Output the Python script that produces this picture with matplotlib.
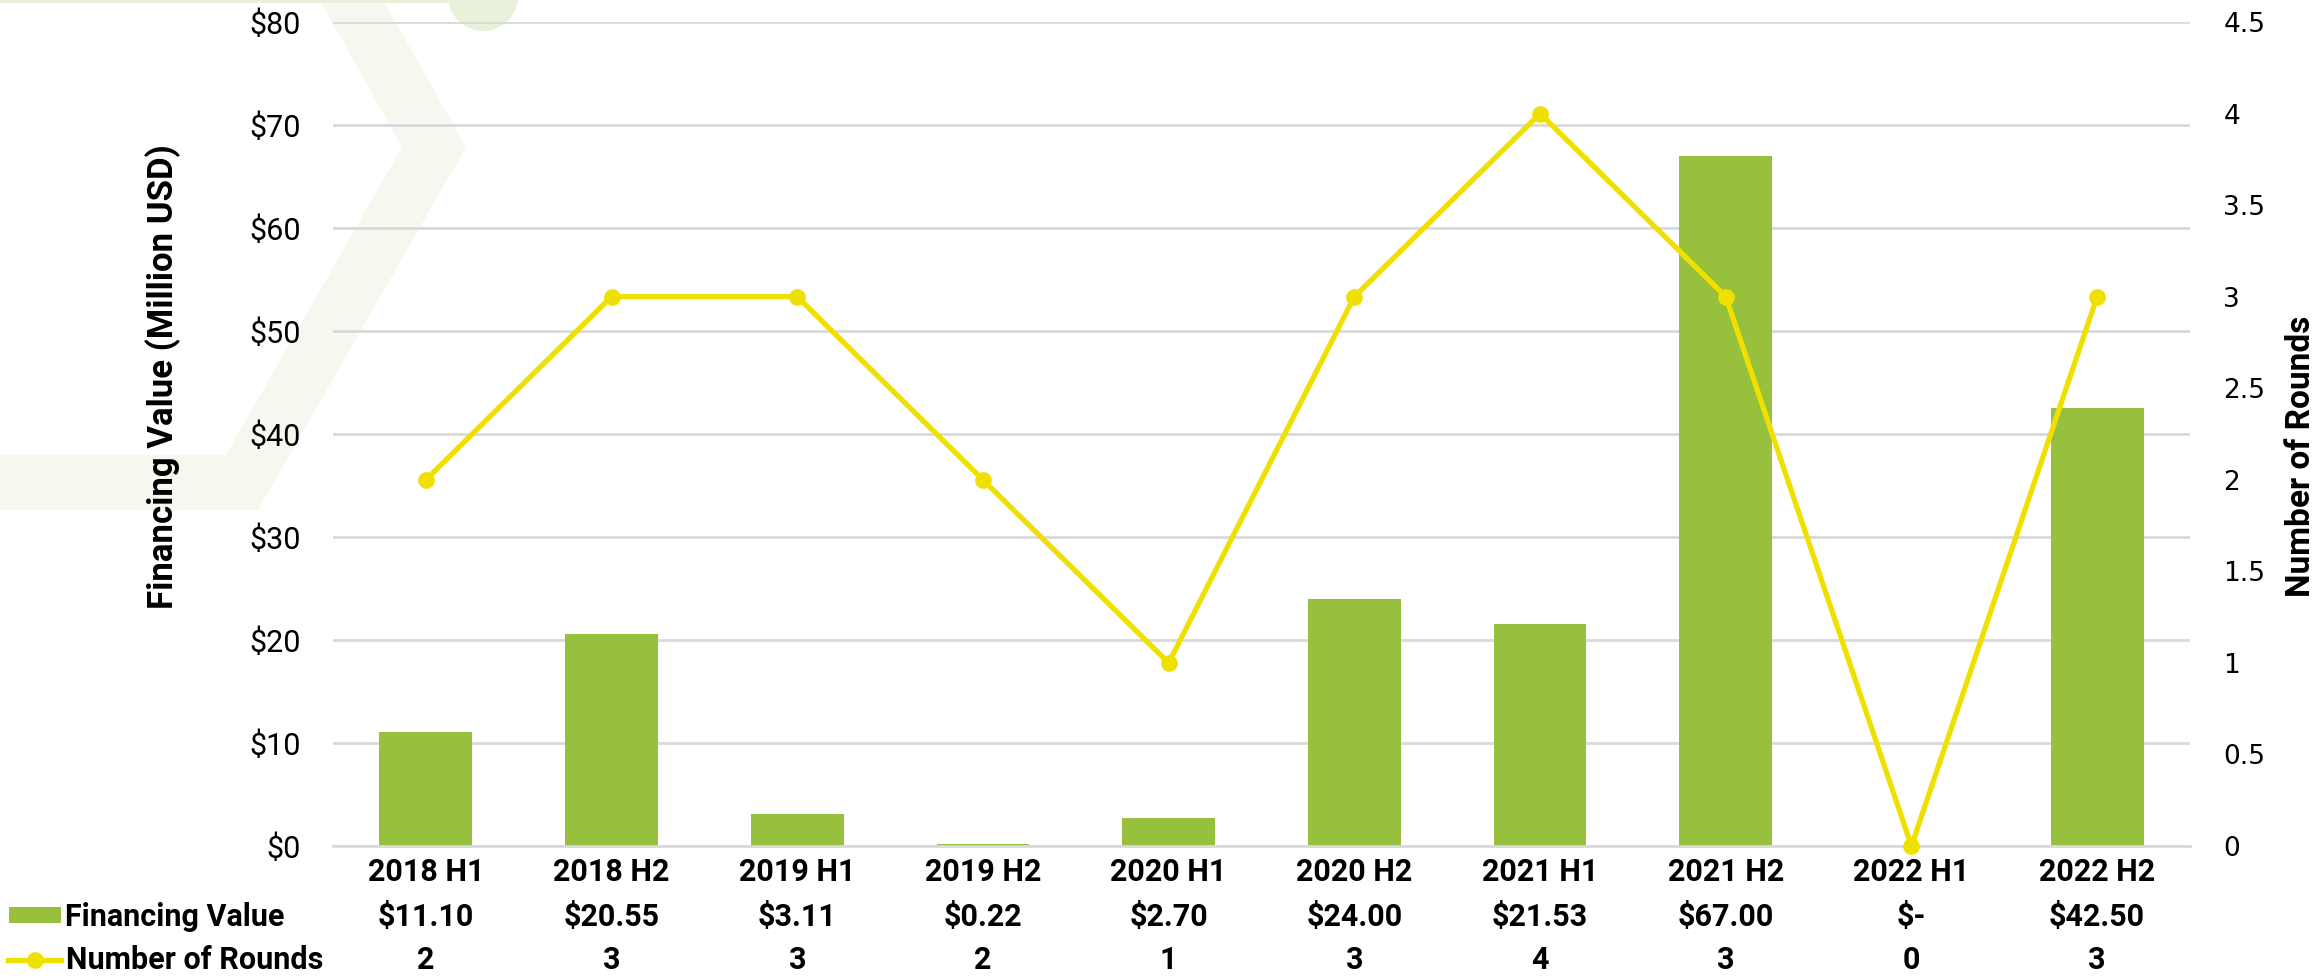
import numpy as np
import matplotlib.pyplot as plt
from matplotlib.patches import Polygon, Circle, Rectangle
from matplotlib.lines import Line2D
import matplotlib.transforms as mtransforms

# data
periods = ['2018 H1', '2018 H2', '2019 H1', '2019 H2', '2020 H1',
           '2020 H2', '2021 H1', '2021 H2', '2022 H1', '2022 H2']
financing = [11.10, 20.55, 3.11, 0.22, 2.70, 24.00, 21.53, 67.00, 0.0, 42.50]
rounds = [2, 3, 3, 2, 1, 3, 4, 3, 0, 3]

green = '#97C03D'
yellow = '#F0E000'
grid_col = '#D9D9D9'
narrow = ['Roboto', 'DejaVu Sans']

W, H = 2323, 980
fig = plt.figure(figsize=(W / 100, H / 100), dpi=100)


def fx(px):
    return px / W


def fy(py):
    return 1 - py / H


# background decoration (chevron, circle, top strip) in pixel coords
chev = [(320, 0), (383, 0), (466, 147), (258, 510), (0, 510), (0, 455),
        (226, 455), (402, 147)]
bg = fig.add_axes([0, 0, 1, 1], zorder=-1)
bg.set_xlim(0, W)
bg.set_ylim(H, 0)
bg.axis('off')
bg.add_patch(Polygon(chev, closed=True, facecolor='#F6F8EF', edgecolor='none'))
bg.add_patch(Rectangle((0, 0), 450, 3, facecolor='#E8F1D9', edgecolor='none'))
bg.add_patch(Circle((483, -4), 35, facecolor='#E8F1D9', edgecolor='none'))

ax = fig.add_axes([fx(333), fy(846), fx(2190) - fx(333), (846 - 22) / H])
ax.set_facecolor('none')
x = np.arange(len(periods))

ax.bar(x, financing, width=0.5, color=green, zorder=2)
ax.set_xlim(-0.5, len(periods) - 0.5)
ax.set_ylim(0, 80)
ax.set_yticks(np.arange(0, 81, 10))
ax.set_yticklabels(['$%d' % v for v in range(0, 81, 10)], family=narrow, fontsize=22)
ax.yaxis.grid(True, color=grid_col, linewidth=2)
ax.set_axisbelow(True)
for s in ['top', 'right', 'left']:
    ax.spines[s].set_visible(False)
ax.spines['bottom'].set_color(grid_col)
ax.spines['bottom'].set_linewidth(2)
ax.tick_params(axis='y', length=0, pad=23)
ax.tick_params(axis='x', length=0, pad=8)
ax.set_xticks(x)
ax.set_xticklabels(periods, family=narrow, fontsize=22, fontweight='bold')

ax2 = ax.twinx()
ax2.plot(x, rounds, color=yellow, linewidth=3.8, marker='o', markersize=11,
         clip_on=False, zorder=3)
ax2.set_ylim(0, 4.5)
ax2.set_yticks(np.arange(0, 4.51, 0.5))
ax2.set_yticklabels(['%g' % v for v in np.arange(0, 4.51, 0.5)], fontsize=19)
for s in ax2.spines.values():
    s.set_visible(False)
ax2.tick_params(axis='y', length=0, pad=24)

# axis titles
fig.text(fx(163), fy(377), 'Financing Value (Million USD)', rotation=90,
         ha='center', va='center', fontsize=25, fontweight='bold',
         family=['Roboto', 'DejaVu Sans'])
fig.text(fx(2301), fy(456), 'Number of Rounds', rotation=90,
         ha='center', va='center', fontsize=24, fontweight='bold', family=narrow)

# data table below the axis
trans = mtransforms.blended_transform_factory(ax.transData, fig.transFigure)
for i in range(len(periods)):
    val = '$-' if financing[i] == 0 else '$%.2f' % financing[i]
    ax.text(x[i], fy(917), val, transform=trans, ha='center', va='center',
            fontsize=22, fontweight='bold', family=narrow)
    ax.text(x[i], fy(960), str(rounds[i]), transform=trans, ha='center',
            va='center', fontsize=22, fontweight='bold', family=narrow)

fig.patches.append(Rectangle((fx(9), fy(923)), fx(61) - fx(9), 16 / H,
                             transform=fig.transFigure, facecolor=green,
                             edgecolor='none'))
fig.lines.append(Line2D([fx(8), fx(61)], [fy(960), fy(960)], transform=fig.transFigure,
                        color=yellow, linewidth=3.8))
fig.lines.append(Line2D([fx(35)], [fy(960)], transform=fig.transFigure,
                        color=yellow, marker='o', markersize=11))
fig.text(fx(65), fy(917), 'Financing Value', ha='left', va='center',
         fontsize=22, fontweight='bold', family=narrow)
fig.text(fx(66), fy(960), 'Number of Rounds', ha='left', va='center',
         fontsize=22, fontweight='bold', family=narrow)

fig.savefig('out.png', dpi=100)
